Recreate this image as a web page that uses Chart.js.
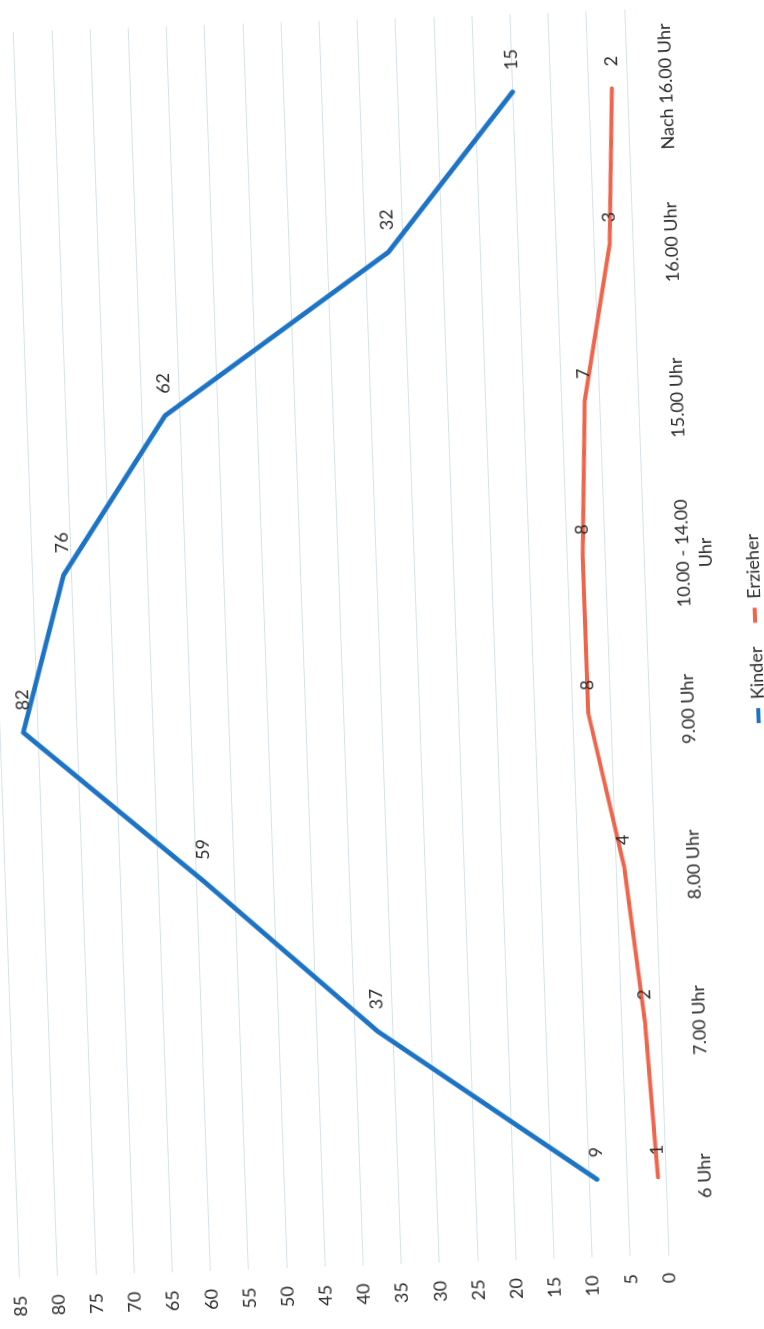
<!DOCTYPE html>
<html lang="de">
<head>
<meta charset="utf-8">
<title>Kinder und Erzieher im Tagesverlauf</title>
<script src="https://cdn.jsdelivr.net/npm/chart.js@4.4.1/dist/chart.umd.min.js"></script>
<style>
  html, body { margin: 0; padding: 0; width: 764px; height: 1329px; overflow: hidden; background: #ffffff; }
  #turn { position: absolute; left: 0; top: 0; }
  canvas { display: block; }
</style>
</head>
<body>
<div id="turn"><canvas id="chart"></canvas></div>
<script>
// Time slots along the category axis
const categories = ['6 Uhr', '7.00 Uhr', '8.00 Uhr', '9.00 Uhr', ['10.00 - 14.00', 'Uhr'], '15.00 Uhr', '16.00 Uhr', 'Nach 16.00 Uhr'];
// Number of children present per time slot
const kinder = [9, 37, 59, 82, 76, 62, 32, 15];
// Number of educators present per time slot
const erzieher = [1, 2, 4, 8, 8, 7, 3, 2];
// Value axis range and tick step
const valueMin = 0;
const valueMax = 85;
const valueStep = 5;

const FONT = 'Lato, "Open Sans", "Noto Sans", sans-serif';
const TEXT = '#2c2c2c';
const GRID = '#d6e3ea';
const BLUE = '#1d74c4';
const RED = '#f0644c';

// Size of the plot area (category band width x 8, value axis length)
const PLOT_W = 1251;
const PLOT_H = 649;
// The sheet is printed sideways, slightly askew
const TILT = -92.03;
// Page position of the first category at value 0
const ANCHOR = { x: 666, y: 1177 };
const X_AXIS_H = 76;

// Writes each value next to its point
const valueLabels = {
  id: 'valueLabels',
  afterDatasetsDraw(chart) {
    const ctx = chart.ctx;
    ctx.save();
    ctx.font = '18px ' + FONT;
    ctx.fillStyle = TEXT;
    ctx.textAlign = 'left';
    ctx.textBaseline = 'middle';
    chart.data.datasets.forEach((ds, i) => {
      chart.getDatasetMeta(i).data.forEach((pt, j) => {
        ctx.fillText(String(ds.data[j]), pt.x + 22, pt.y);
      });
    });
    ctx.restore();
  }
};

function makeConfig() {
  return {
    type: 'line',
    data: {
      labels: categories,
      datasets: [
        { label: 'Kinder', data: kinder, borderColor: BLUE, backgroundColor: BLUE, borderWidth: 4.8,
          pointRadius: 0, tension: 0, borderJoinStyle: 'round', borderCapStyle: 'round' },
        { label: 'Erzieher', data: erzieher, borderColor: RED, backgroundColor: RED, borderWidth: 4,
          pointRadius: 0, tension: 0, borderJoinStyle: 'round', borderCapStyle: 'round' }
      ]
    },
    options: {
      responsive: false,
      maintainAspectRatio: false,
      animation: false,
      devicePixelRatio: 1,
      layout: { padding: { left: 8, right: 8, top: 24, bottom: 8 } },
      plugins: {
        legend: {
          position: 'bottom',
          fullSize: false,
          labels: {
            boxWidth: 15,
            boxHeight: 4,
            padding: 24,
            color: TEXT,
            font: { family: FONT, size: 18 },
            generateLabels: (c) => Chart.defaults.plugins.legend.labels.generateLabels(c)
              .map(l => Object.assign(l, { lineWidth: 0 }))
          }
        },
        tooltip: { enabled: false }
      },
      scales: {
        x: {
          offset: true,
          grid: { display: false, drawTicks: false },
          border: { display: true, color: GRID, width: 1 },
          ticks: {
            padding: 28, autoSkip: false, maxRotation: 0, minRotation: 0,
            color: TEXT, font: { family: FONT, size: 18, lineHeight: 1.25 }
          },
          afterFit(scale) { scale.height = X_AXIS_H; }
        },
        y: {
          min: valueMin,
          max: valueMax,
          grid: { color: GRID, lineWidth: 1, drawTicks: false },
          border: { display: false },
          ticks: { stepSize: valueStep, padding: 18, color: TEXT, font: { family: FONT, size: 18 } }
        }
      }
    },
    plugins: [valueLabels]
  };
}

const canvas = document.getElementById('chart');
let chart = null;
function build(w, h) {
  if (chart) chart.destroy();
  canvas.width = w;
  canvas.height = h;
  canvas.style.width = w + 'px';
  canvas.style.height = h + 'px';
  chart = new Chart(canvas, makeConfig());
}

function draw() {
  const w0 = 1400, h0 = 880;
  build(w0, h0);
  const a = chart.chartArea;
  build(Math.round(w0 + PLOT_W - (a.right - a.left)), Math.round(h0 + PLOT_H - (a.bottom - a.top)));
  const ox = chart.scales.x.getPixelForValue(0);
  const oy = chart.scales.y.getPixelForValue(0);
  const turn = document.getElementById('turn');
  turn.style.left = (ANCHOR.x - ox) + 'px';
  turn.style.top = (ANCHOR.y - oy) + 'px';
  turn.style.transformOrigin = ox + 'px ' + oy + 'px';
  turn.style.transform = 'rotate(' + TILT + 'deg)';
}

if (document.fonts && document.fonts.load) {
  document.fonts.load('18px Lato').then(draw, draw);
} else {
  draw();
}
</script>
</body>
</html>
